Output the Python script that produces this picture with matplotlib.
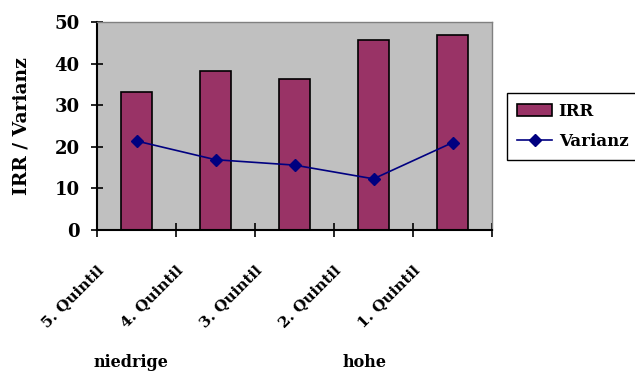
import numpy as np
import matplotlib.pyplot as plt
import matplotlib.transforms as mtransforms

# data
categories = ['5. Quintil', '4. Quintil', '3. Quintil', '2. Quintil', '1. Quintil']
irr = [33.2, 38.3, 36.4, 45.7, 46.8]
varianz = [21.4, 16.9, 15.6, 12.3, 21.0]
group_labels = ['niedrige', 'hohe']
group_pos = [-0.07, 2.89]

plt.rcParams['font.family'] = ['DejaVu Serif']
plt.rcParams['font.weight'] = 'bold'
plt.rcParams['axes.labelweight'] = 'bold'
fs = 12

fig = plt.figure(figsize=(6.35, 3.72), dpi=100)
ax = fig.add_axes([97 / 635, 1 - 230 / 372, 395 / 635, 208 / 372])
ax.set_facecolor('#C0C0C0')

x = np.arange(len(categories))
bars = ax.bar(x, irr, width=0.4, color='#993366', edgecolor='black', linewidth=1.2, zorder=2)
line, = ax.plot(x, varianz, color='#000080', marker='D', markersize=6, linewidth=1.2, zorder=3)

ax.set_xlim(-0.5, len(categories) - 0.5)
ax.set_ylim(0, 50)
ax.set_yticks([0, 10, 20, 30, 40, 50])
ax.set_yticklabels([str(v) for v in [0, 10, 20, 30, 40, 50]], fontweight='bold', fontsize=13)
ax.tick_params(axis='y', direction='inout', length=9, width=1.2, pad=8)

# category boundaries as ticks, labels at the centres
ax.set_xticks(np.arange(-0.5, len(categories)), minor=True)
ax.set_xticks(x)
ax.set_xticklabels(categories, rotation=45, ha='right', va='center',
                   rotation_mode='anchor', fontsize=11, fontweight='bold')
ax.tick_params(axis='x', which='major', length=0, pad=0)
ax.tick_params(axis='x', which='minor', direction='inout', length=10, width=1.2)
offset = mtransforms.ScaledTranslation(-0.35, -0.38, fig.dpi_scale_trans)
for lab in ax.get_xticklabels():
    lab.set_transform(lab.get_transform() + offset)

for s in ['left', 'bottom']:
    ax.spines[s].set_color('black')
    ax.spines[s].set_linewidth(1.5)
for s in ['top', 'right']:
    ax.spines[s].set_color('#808080')
    ax.spines[s].set_linewidth(1)

ax.set_ylabel('IRR / Varianz', fontsize=13.5, fontweight='bold', labelpad=17)

trans = mtransforms.blended_transform_factory(ax.transData, ax.transAxes)
for pos, lab in zip(group_pos, group_labels):
    ax.text(pos, -0.635, lab, transform=trans, ha='center', va='center',
            fontsize=11.5, fontweight='bold')

leg = ax.legend([bars, line], ['IRR', 'Varianz'], loc='upper left',
                bbox_to_anchor=(507 / 635, 1 - 93 / 372),
                bbox_transform=fig.transFigure, frameon=True,
                prop={'size': fs, 'weight': 'bold'},
                fancybox=False, borderaxespad=0, handlelength=2.1,
                handletextpad=0.4, borderpad=0.6, labelspacing=0.75)
leg.get_frame().set_edgecolor('black')
leg.get_frame().set_linewidth(1)
leg.get_frame().set_alpha(1)

fig.savefig('out.png', dpi=100)
